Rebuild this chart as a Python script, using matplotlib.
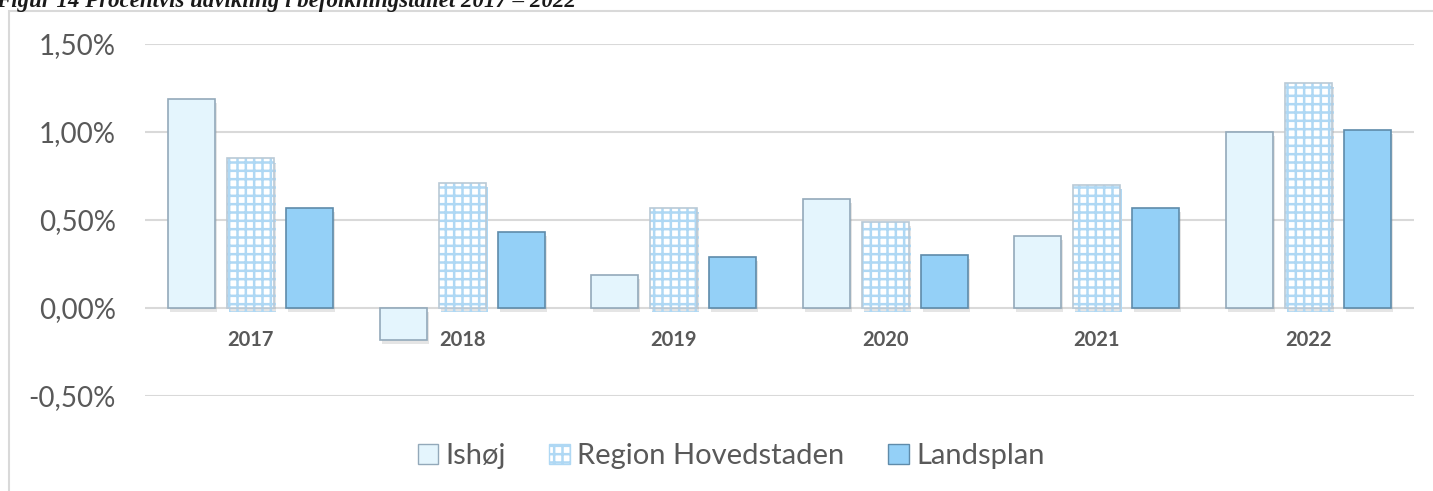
import matplotlib
matplotlib.use("Agg")
import matplotlib.pyplot as plt
import matplotlib.patheffects as pe
from matplotlib.patches import Rectangle
import numpy as np

years = ["2017", "2018", "2019", "2020", "2021", "2022"]
series_names = ["Ishøj", "Region Hovedstaden", "Landsplan"]
ishoj = [1.19, -0.18, 0.19, 0.62, 0.41, 1.00]
region = [0.85, 0.71, 0.57, 0.49, 0.70, 1.28]
landsplan = [0.57, 0.43, 0.29, 0.30, 0.57, 1.01]
yticks = [-0.5, 0.0, 0.5, 1.0, 1.5]
ytick_labels = ["-0,50%", "0,00%", "0,50%", "1,00%", "1,50%"]
title = "Figur 14 Procentvis udvikling i befolkningstallet 2017 \u2013 2022"

plt.rcParams['hatch.linewidth'] = 1.8
SANS = ["Lato", "DejaVu Sans"]

W, H = 1433, 491
fig = plt.figure(figsize=(W / 100, H / 100), dpi=100)

# chart border (extends beyond image at right/bottom)
fig.patches.append(Rectangle((9 / W, -0.1), 1.2, 1 - 11 / H + 0.1, transform=fig.transFigure,
                             fill=False, edgecolor="#D9D9D9", linewidth=1.5))

fig.text(-0.003, 1 - 7 / H, title, fontsize=16.5, fontstyle="italic", fontweight="bold",
         family=["Liberation Serif", "DejaVu Serif"], va="baseline", ha="left", color="#1a1a1a")

ax = fig.add_axes([145 / W, 1 - 396 / H, (1414 - 145) / W, (396 - 44) / H])
ax.set_ylim(-0.5, 1.5)
ax.set_xlim(-0.5, len(years) - 0.5)

x = np.arange(len(years))
bw = 0.222
step = 0.279

shadow = [pe.SimplePatchShadow(offset=(1.5, -3), shadow_rgbFace="#8a8a8a", alpha=0.22), pe.Normal()]

c_ish = "#E4F5FD"
e_ish = "#93A9BA"
c_land = "#94D0F7"
e_land = "#5F8BAA"
h_reg = "#AFD8F4"
e_reg = "#B9C9D6"

b1 = ax.bar(x - step, ishoj, bw, color=c_ish, edgecolor=e_ish, linewidth=1.2, zorder=3)
b2 = ax.bar(x, region, bw, color="white", edgecolor=h_reg, hatch="++", linewidth=0, zorder=3)
b2e = ax.bar(x, region, bw, color="none", edgecolor=e_reg, linewidth=1.2, zorder=4)
b3 = ax.bar(x + step, landsplan, bw, color=c_land, edgecolor=e_land, linewidth=1.2, zorder=3)
for bars in (b1, b2, b3):
    for p in bars:
        p.set_path_effects(shadow)

ax.set_yticks(yticks)
ax.set_yticklabels(ytick_labels, fontsize=20, color="#595959", family=SANS)
ax.tick_params(axis="y", length=0, pad=21)
ax.grid(axis="y", color="#D9D9D9", linewidth=1.5, zorder=0)
ax.set_axisbelow(True)
for s in ax.spines.values():
    s.set_visible(False)
ax.spines["bottom"].set_position(("data", 0))
ax.set_xticks(x)
ax.set_xticklabels(years, fontsize=14.5, fontweight="bold", color="#595959", family=SANS)
ax.tick_params(axis="x", length=0, pad=16)

handles = [
    Rectangle((0, 0), 1, 1, facecolor=c_ish, edgecolor=e_ish, linewidth=1),
    Rectangle((0, 0), 1, 1, facecolor="white", edgecolor=h_reg, hatch="++", linewidth=1),
    Rectangle((0, 0), 1, 1, facecolor=c_land, edgecolor=e_land, linewidth=1),
]
leg = fig.legend(handles, series_names, loc="center", bbox_to_anchor=(731 / W, 1 - 456 / H),
                 ncol=3, frameon=False, prop={"family": SANS, "size": 21},
                 handlelength=0.7, handleheight=0.7, handletextpad=0.25, columnspacing=1.5)
for t in leg.get_texts():
    t.set_color("#595959")

fig.savefig("out.png", dpi=100)
